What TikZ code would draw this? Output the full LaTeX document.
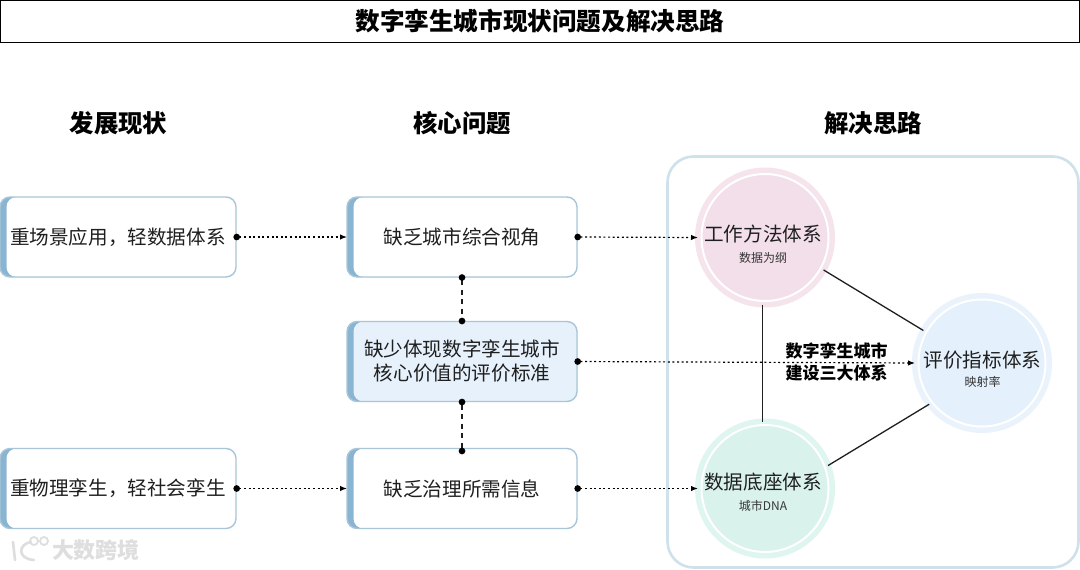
\documentclass[tikz,border=0pt]{standalone}
\usepackage{fontspec}
\setmainfont{Noto Sans CJK SC}
\usetikzlibrary{arrows.meta}
\newcommand{\lowerline}[1]{\raisebox{-1pt}{#1}}
\newcommand{\widecomma}{\char"FF0C\relax}
\definecolor{edgeblue}{HTML}{A9C6D8}
\definecolor{stripeblue}{HTML}{8AB5D2}
\definecolor{midfill}{HTML}{E6F1FB}
\definecolor{panelline}{HTML}{CFE1EA}
\definecolor{pinkout}{HTML}{F5E4EC}
\definecolor{pinkin}{HTML}{F2DFE9}
\definecolor{blueout}{HTML}{EAF3FB}
\definecolor{bluein}{HTML}{E4F0FB}
\definecolor{greenout}{HTML}{DFF5EF}
\definecolor{greenin}{HTML}{D9F3EC}
\definecolor{ink}{HTML}{1F1F1F}
\definecolor{wm}{HTML}{DEDEDE}
\tikzset{
  x=1pt,y=-1pt,
  every node/.style={text=ink,inner sep=0pt,outer sep=0pt,align=center},
  bodytext/.style={font=\fontsize{19.6}{24}\selectfont},
  headtext/.style={font=\fontsize{24.4}{30}\selectfont\bfseries,text=black},
  stripebox/.style={draw=edgeblue,line width=1.4pt,rounded corners=10pt,fill=#1,
    bodytext,
    path picture={
      \fill[stripeblue] (path picture bounding box.north west) rectangle (path picture bounding box.south east);
      \fill[#1,rounded corners=10pt] ([xshift=6.5pt]path picture bounding box.north west) rectangle ([xshift=30pt]path picture bounding box.south east);
    }},
  leftbox/.style={stripebox=white,minimum width=236pt,minimum height=80pt},
  midbox/.style={stripebox=#1,minimum width=230pt,minimum height=80pt},
  flowline/.style={draw=black,line width=1.2pt,dash pattern=on 2pt off 2.6pt,shorten <=-2.6pt,
    {Circle[length=6.6pt,width=6.6pt,black]}-{Latex[length=7pt,width=5.5pt,black]}},
  linkdash/.style={draw=ink,line width=1.3pt,dash pattern=on 5pt off 4.5pt,shorten <=-2.8pt,shorten >=-2.8pt,
    {Circle[length=6.6pt,width=6.6pt,black]}-{Circle[length=6.6pt,width=6.6pt,black]}},
  sysline/.style={draw=ink,line width=1.3pt},
  syscircle/.style={circle,minimum size=134pt,line width=6pt,fill=#1},
  ringline/.style={draw=white,line width=2pt},
  subtext/.style={font=\fontsize{12}{15}\selectfont,text=ink!90},
  circtext/.style={font=\fontsize{19.6}{25}\selectfont},
}
\begin{document}
\begin{tikzpicture}
\useasboundingbox (0,0) rectangle (1080,570);
\fill[white] (0,0) rectangle (1080,570);

% title
\node[draw=black,line width=1.4pt,minimum width=1079pt,minimum height=41.5pt,
  font=\fontsize{24.6}{30}\selectfont\bfseries,text=black] (title) at (540,21.5) {数字孪生城市现状问题及解决思路};

% column heads
\node[headtext] (h1) at (118.5,123) {发展现状};
\node[headtext] (h2) at (462,123) {核心问题};
\node[headtext] (h3) at (873,123) {解决思路};

% panel
\node[draw=panelline,line width=2.6pt,rounded corners=26pt,minimum width=411pt,minimum height=411pt] (panel) at (873,362) {};

% left boxes
\node[leftbox] (l1) at (118,237) {\lowerline{重场景应用\widecomma 轻数据体系}};
\node[leftbox] (l2) at (118,488.5) {\lowerline{重物理孪生\widecomma 轻社会孪生}};

% middle boxes
\node[midbox=white] (m1) at (462,237) {\lowerline{缺乏城市综合视角}};
\node[midbox=midfill] (m2) at (462,361.5) {\lowerline{缺少体现数字孪生城市}\\\lowerline{核心价值的评价标准}};
\node[midbox=white] (m3) at (462,488.5) {\lowerline{缺乏治理所需信息}};

% circles
\node[syscircle=pinkin,draw=pinkout] (c1) at (765,237.5) {};
\draw[ringline] (c1) circle (63.5);
\node[syscircle=bluein,draw=blueout] (c2) at (982,363) {};
\draw[ringline] (c2) circle (63.5);
\node[syscircle=greenin,draw=greenout] (c3) at (765,488.5) {};
\draw[ringline] (c3) circle (63.5);

\node[circtext] (c1a) at (763,234.5) {工作方法体系};
\node[subtext] (c1b) at (763,258) {数据为纲};
\node[circtext] (c2a) at (982.5,360) {评价指标体系};
\node[subtext] (c2b) at (982.5,382) {映射率};
\node[circtext] (c3a) at (763,482) {数据底座体系};
\node[subtext] (c3b) at (763,506) {城市DNA};

% triangle links
\draw[sysline] (c1.-29) -- (c2.151);
\draw[sysline] ([xshift=-2.4pt]c1.south) -- ([xshift=-2.4pt]c3.north);
\draw[sysline] (c3.20) -- (c2.218);

% flow connectors
\draw[flowline] (l1.east) -- (m1.west);
\draw[flowline] (l2.east) -- (m3.west);
\draw[flowline] (m1.east) -- (c1.west);
\draw[flowline] (m2.east) -- (c2.west);
\draw[flowline] (m3.east) -- (c3.west);

% dashed links
\draw[linkdash] (m1.south) -- (m2.north);
\draw[linkdash] (m2.south) -- ([yshift=-3pt]m3.north);

% centre label
\node[font=\fontsize{17}{21.5}\selectfont\bfseries,text=black] (cap) at (836.5,362) {数字孪生城市\\建设三大体系};

% watermark
\node[font=\fontsize{22}{26}\selectfont\bfseries,text=wm] (wmtext) at (96,550) {大数跨境};
\draw[wm,line width=2.6pt,line cap=round] (13,542) -- (15,560);
\draw[wm,line width=2.6pt,line cap=round] (31,542) .. controls (18,544) and (17,559) .. (34,560);
\draw[wm,line width=1.8pt] (34,541) circle (4);
\draw[wm,line width=1.8pt] (44,541) circle (4);
\end{tikzpicture}
\end{document}
